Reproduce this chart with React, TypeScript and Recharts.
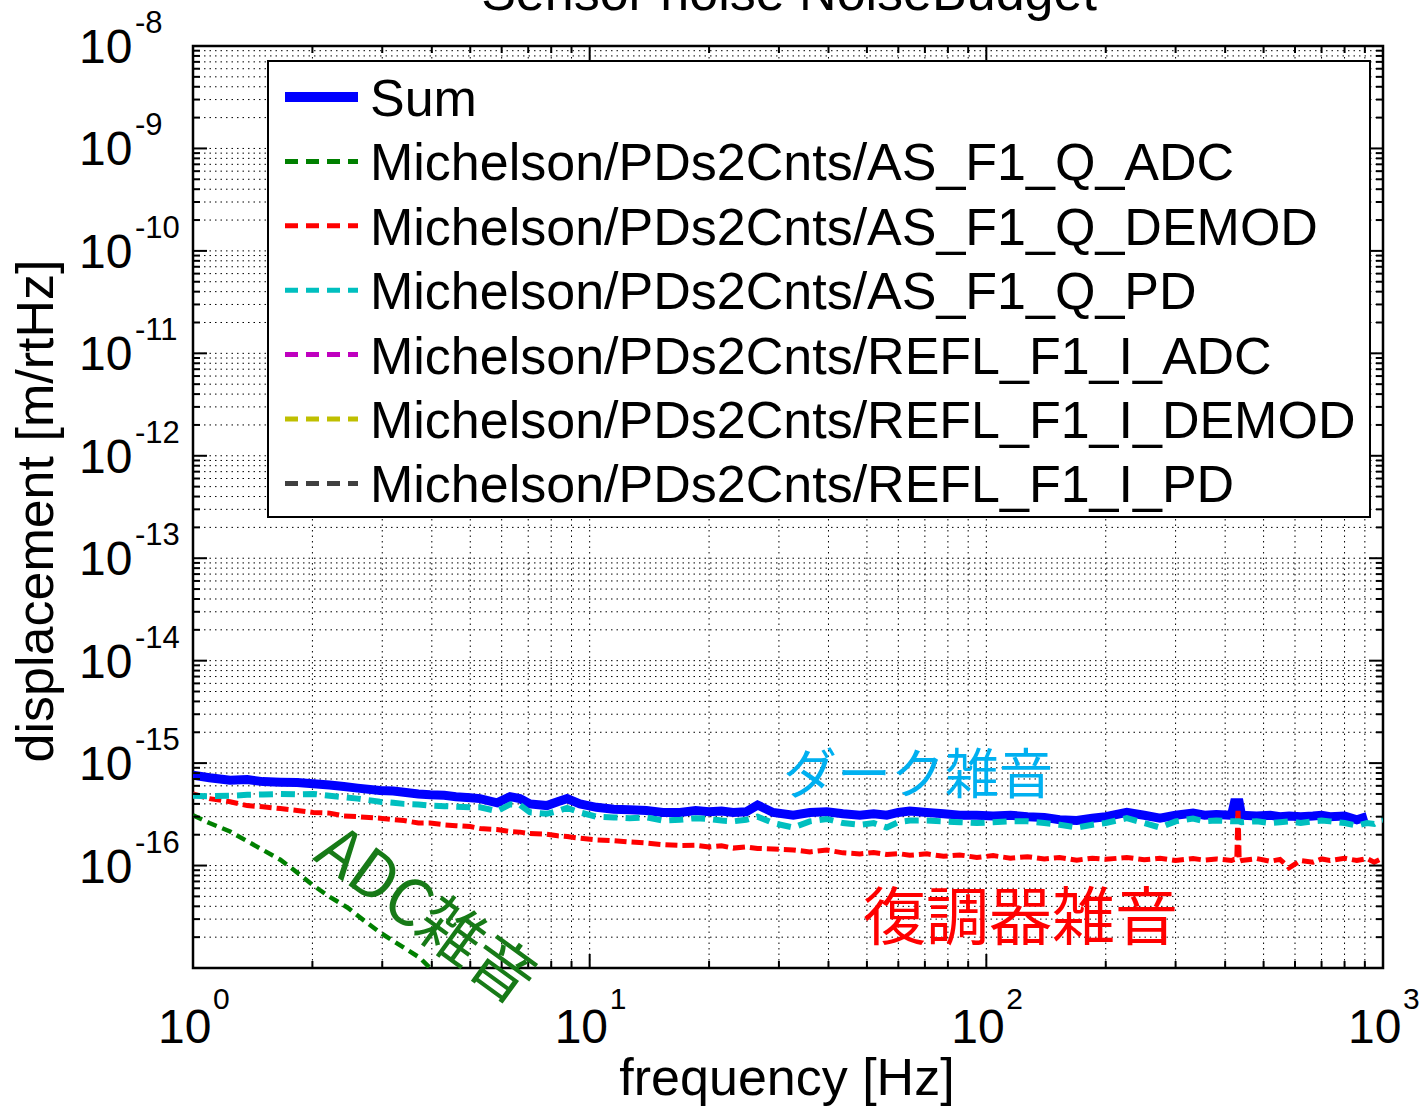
import React from 'react';
import { LineChart, Line, XAxis, YAxis, CartesianGrid, ReferenceArea, Legend } from 'recharts';

// values in units of 1e-16 m/rtHz
const UNIT = 1e-16;

const FREQ = [
  1, 1.1, 1.24, 1.37, 1.5, 1.66, 1.83, 2.01, 2.21, 2.4,
  2.6, 2.96, 3.2, 3.4, 3.7, 3.96, 4.3, 4.6, 5.0, 5.29,
  5.84, 6.3, 6.67, 7.07, 7.8, 8.3, 8.77, 9.45, 10.4, 11.5,
  12.6, 13.9, 15.3, 16.9, 18.5, 20, 21.5, 23, 24.8, 26.5,
  29, 32.6, 35.9, 39.6, 43.5, 48, 52, 56.1, 60, 64.1,
  70.8, 78, 85.7, 94.6, 104, 115, 127, 140, 153, 169,
  185, 200, 226, 250, 274, 300, 332, 355, 380, 415,
  422, 428, 431, 434, 440, 480, 520, 550, 580, 620,
  666, 700, 735, 800, 859, 911, 950, 982, 1000,
];

const SUM = [
  7.6, 7.2, 6.8, 6.9, 6.6, 6.5, 6.45, 6.3, 6.1, 5.9,
  5.7, 5.4, 5.35, 5.2, 5.0, 4.9, 4.85, 4.7, 4.6, 4.5,
  4.1, 4.7, 4.5, 4.0, 3.85, 4.2, 4.5, 4.0, 3.7, 3.55,
  3.5, 3.45, 3.3, 3.3, 3.45, 3.35, 3.4, 3.3, 3.35, 3.9,
  3.3, 3.1, 3.3, 3.35, 3.2, 3.1, 3.2, 3.1, 3.3, 3.4,
  3.3, 3.2, 3.1, 3.1, 3.05, 3.1, 3.0, 2.95, 2.8, 2.75,
  2.9, 3.0, 3.3, 3.1, 2.9, 3.1, 3.25, 3.1, 3.15, 3.1,
  4.1, 4.1, 4.1, 4.1, 3.1, 3.05, 3.1, 3.0, 3.05, 3.0,
  3.05, 3.1, 3.0, 3.05, 2.8, 3.0, null, null, null,
];

const AS_PD = [
  4.8, 4.75, 4.8, 4.9, 4.95, 5.0, 4.95, 5.0, 4.8, 4.65,
  4.5, 4.2, 4.1, 4.0, 3.95, 3.85, 3.8, 3.75, 3.7, 3.7,
  3.4, 3.95, 3.9, 3.3, 3.2, 3.4, 3.65, 3.3, 3.0, 2.95,
  2.9, 2.95, 2.75, 2.8, 2.9, 2.85, 2.75, 2.7, 2.8, 3.0,
  2.6, 2.35, 2.7, 2.85, 2.6, 2.5, 2.6, 2.35, 2.65, 2.75,
  2.75, 2.7, 2.65, 2.6, 2.65, 2.7, 2.7, 2.6, 2.5, 2.35,
  2.5, 2.6, 2.9, 2.6, 2.35, 2.7, 2.88, 2.7, 2.75, 2.7,
  2.7, 2.7, 2.7, 2.7, 2.65, 2.7, 2.6, 2.65, 2.7, 2.6,
  2.7, 2.75, 2.7, 2.6, 2.45, 2.6, 2.55, 2.75, 2.8,
];

const AS_DEMOD = [
  5.0, 4.5, 4.2, 3.85, 3.75, 3.6, 3.45, 3.3, 3.25, 3.05,
  3.0, 2.9, 2.8, 2.75, 2.6, 2.6, 2.5, 2.45, 2.4, 2.3,
  2.25, 2.15, 2.12, 2.05, 2.02, 1.95, 1.92, 1.85, 1.78, 1.75,
  1.7, 1.66, 1.6, 1.57, 1.58, 1.52, 1.56, 1.48, 1.52, 1.47,
  1.45, 1.42, 1.36, 1.42, 1.33, 1.3, 1.34, 1.28, 1.31, 1.26,
  1.3, 1.23, 1.27, 1.2, 1.25, 1.18, 1.22, 1.16, 1.2, 1.13,
  1.18, 1.15, 1.2, 1.14, 1.18, 1.12, 1.17, 1.13, 1.16, 1.12,
  1.15, 1.15, 3.6, 1.1, 1.12, 1.17, 1.1, 1.15, 0.95, 1.12,
  1.08, 1.16, 1.12, 1.18, 1.12, 1.17, 1.08, 1.15, 1.2,
];

const ADC_FREQ = [1, 1.1, 1.24, 1.4, 1.66, 1.8, 2.01, 2.2, 2.45, 2.7, 2.96, 3.3, 3.73, 3.96];
const AS_ADC = [3.1, 2.6, 2.15, 1.65, 1.14, 0.9, 0.64, 0.5, 0.39, 0.29, 0.222, 0.17, 0.126, 0.1];

const SERIES = [
  { name: 'Sum', color: '#0000FF', dash: '' },
  { name: 'Michelson/PDs2Cnts/AS_F1_Q_ADC', color: '#008000', dash: '13 8' },
  { name: 'Michelson/PDs2Cnts/AS_F1_Q_DEMOD', color: '#FF0000', dash: '13 8' },
  { name: 'Michelson/PDs2Cnts/AS_F1_Q_PD', color: '#00BFBF', dash: '13 8' },
  { name: 'Michelson/PDs2Cnts/REFL_F1_I_ADC', color: '#BF00BF', dash: '13 8' },
  { name: 'Michelson/PDs2Cnts/REFL_F1_I_DEMOD', color: '#BFBF00', dash: '13 8' },
  { name: 'Michelson/PDs2Cnts/REFL_F1_I_PD', color: '#404040', dash: '13 8' },
];

const X_DECADES = [0, 1, 2, 3];
const Y_DECADES = [-17, -16, -15, -14, -13, -12, -11, -10, -9, -8];
const MINOR = [2, 3, 4, 5, 6, 7, 8, 9];

const TITLE = 'Sensor noise NoiseBudget';
const X_LABEL = 'frequency [Hz]';
const Y_LABEL = 'displacement [m/rtHz]';

const W = 1425;
const H = 1111;
const PL = 193;
const PR = 1383;
const PT = 46;
const PB = 968;
const FONT = "'Liberation Sans', Arial, Helvetica, sans-serif";
const CJK = "'Noto Sans CJK JP', sans-serif";

const logTicks = (decades: number[]) => {
  const out: number[] = [];
  decades.forEach((d, i) => {
    out.push(Math.pow(10, d));
    if (i < decades.length - 1) MINOR.forEach(m => out.push(m * Math.pow(10, d)));
  });
  return out;
};

const X_TICKS = logTicks(X_DECADES);
const Y_TICKS = logTicks(Y_DECADES);

const decade = (v: number) => {
  const l = Math.log10(v);
  const e = Math.round(l);
  return Math.abs(l - e) < 1e-6 ? e : null;
};

const rows = FREQ.map((f, i) => ({
  f,
  sum: SUM[i] == null ? null : (SUM[i] as number) * UNIT,
  pd: AS_PD[i] * UNIT,
  demod: AS_DEMOD[i] * UNIT,
}));

const adcRows = ADC_FREQ.map((f, i) => ({ f, adc: AS_ADC[i] * UNIT }));

const XTick = (props: any) => {
  const { x, payload } = props;
  const e = decade(payload.value);
  const len = e !== null ? 14 : 7;
  return (
    <g>
      <line x1={x} x2={x} y1={PB} y2={PB - len} stroke="#000" strokeWidth={2} />
      <line x1={x} x2={x} y1={PT} y2={PT + len} stroke="#000" strokeWidth={2} />
      {e !== null && (
        <g fontFamily={FONT} fill="#000">
          <text x={x - 35} y={1043} fontSize={48}>10</text>
          <text x={x + 20} y={1009} fontSize={30}>{e}</text>
        </g>
      )}
    </g>
  );
};

const YTick = (props: any) => {
  const { y, payload } = props;
  const e = decade(payload.value);
  const len = e !== null ? 14 : 7;
  return (
    <g>
      <line x1={PL} x2={PL + len} y1={y} y2={y} stroke="#000" strokeWidth={2} />
      <line x1={PR} x2={PR - len} y1={y} y2={y} stroke="#000" strokeWidth={2} />
      {e !== null && e > -17 && (
        <g fontFamily={FONT} fill="#000">
          <text x={79} y={y + 17} fontSize={48}>10</text>
          <text x={135} y={y - 13} fontSize={31}>{e}</text>
        </g>
      )}
    </g>
  );
};

const LegendBox = () => (
  <svg width={1104} height={458} style={{ display: 'block' }}>
    <rect x={1} y={1} width={1102} height={456} fill="#fff" stroke="#000" strokeWidth={2} />
    {SERIES.map((s, i) => {
      const cy = 37 + i * 64.4;
      return (
        <g key={s.name}>
          <line x1={18} x2={91} y1={cy} y2={cy} stroke={s.color} strokeWidth={s.dash ? 5 : 10}
            strokeDasharray={s.dash || undefined} />
          <text x={103} y={cy + 19} fontSize={52} fontFamily={FONT} fill="#000">{s.name}</text>
        </g>
      );
    })}
  </svg>
);

export default function App() {
  return (
    <div style={{ position: 'absolute', left: 0, top: 0, width: W, height: H, background: '#fff' }}>
      <LineChart width={W} height={H} data={rows} margin={{ top: PT, right: W - PR, bottom: 0, left: 0 }}>
        <CartesianGrid stroke="#000" strokeWidth={1} strokeDasharray="1.5 4" />
        <XAxis dataKey="f" type="number" scale="log" domain={[1, 1000]} ticks={X_TICKS} interval={0}
          allowDataOverflow height={H - PB} tick={<XTick />} tickLine={false} axisLine={false} />
        <YAxis type="number" scale="log" domain={[1e-17, 1e-8]} ticks={Y_TICKS} interval={0}
          allowDataOverflow width={PL} tick={<YTick />} tickLine={false} axisLine={false} />
        <Line dataKey="sum" stroke={SERIES[0].color} strokeWidth={9} dot={false} isAnimationActive={false} />
        <Line data={adcRows} dataKey="adc" stroke={SERIES[1].color} strokeWidth={4.5} strokeDasharray="10 6"
          dot={false} isAnimationActive={false} />
        <Line dataKey="demod" stroke={SERIES[2].color} strokeWidth={5} strokeDasharray="12 5" dot={false}
          isAnimationActive={false} />
        <Line dataKey="pd" stroke={SERIES[3].color} strokeWidth={6} strokeDasharray="14 8" dot={false}
          isAnimationActive={false} />
        <ReferenceArea x1={1} x2={1000} y1={1e-17} y2={1e-8} fill="none" stroke="#000" strokeWidth={2.5}
          ifOverflow="visible" />
        <Legend content={<LegendBox />} layout="vertical" align="center" verticalAlign="middle"
          wrapperStyle={{ left: 267, top: 60, width: 1104, height: 458 }} />
      </LineChart>
      <svg width={W} height={H} style={{ position: 'absolute', left: 0, top: 0, pointerEvents: 'none' }}>
        <text x={789} y={10} textAnchor="middle" fontSize={52} fontFamily={FONT} fill="#000">{TITLE}</text>
        <text x={787} y={1095} textAnchor="middle" fontSize={52} fontFamily={FONT} fill="#000">{X_LABEL}</text>
        <text x={0} y={0} transform="translate(53 511) rotate(-90)" textAnchor="middle" fontSize={52}
          fontFamily={FONT} fill="#000">{Y_LABEL}</text>
        <text x={783} y={794} fontSize={54} fontFamily={CJK} fill="#00B0F0">ダーク雑音</text>
        <text x={863} y={939} fontSize={63} fontFamily={CJK} fill="#FF0000">復調器雑音</text>
        <text x={430} y={910} transform="rotate(36 430 910)" textAnchor="middle" dominantBaseline="central"
          fontSize={64} fontFamily={CJK} fill="#177A17">ADC雑音</text>
      </svg>
    </div>
  );
}
